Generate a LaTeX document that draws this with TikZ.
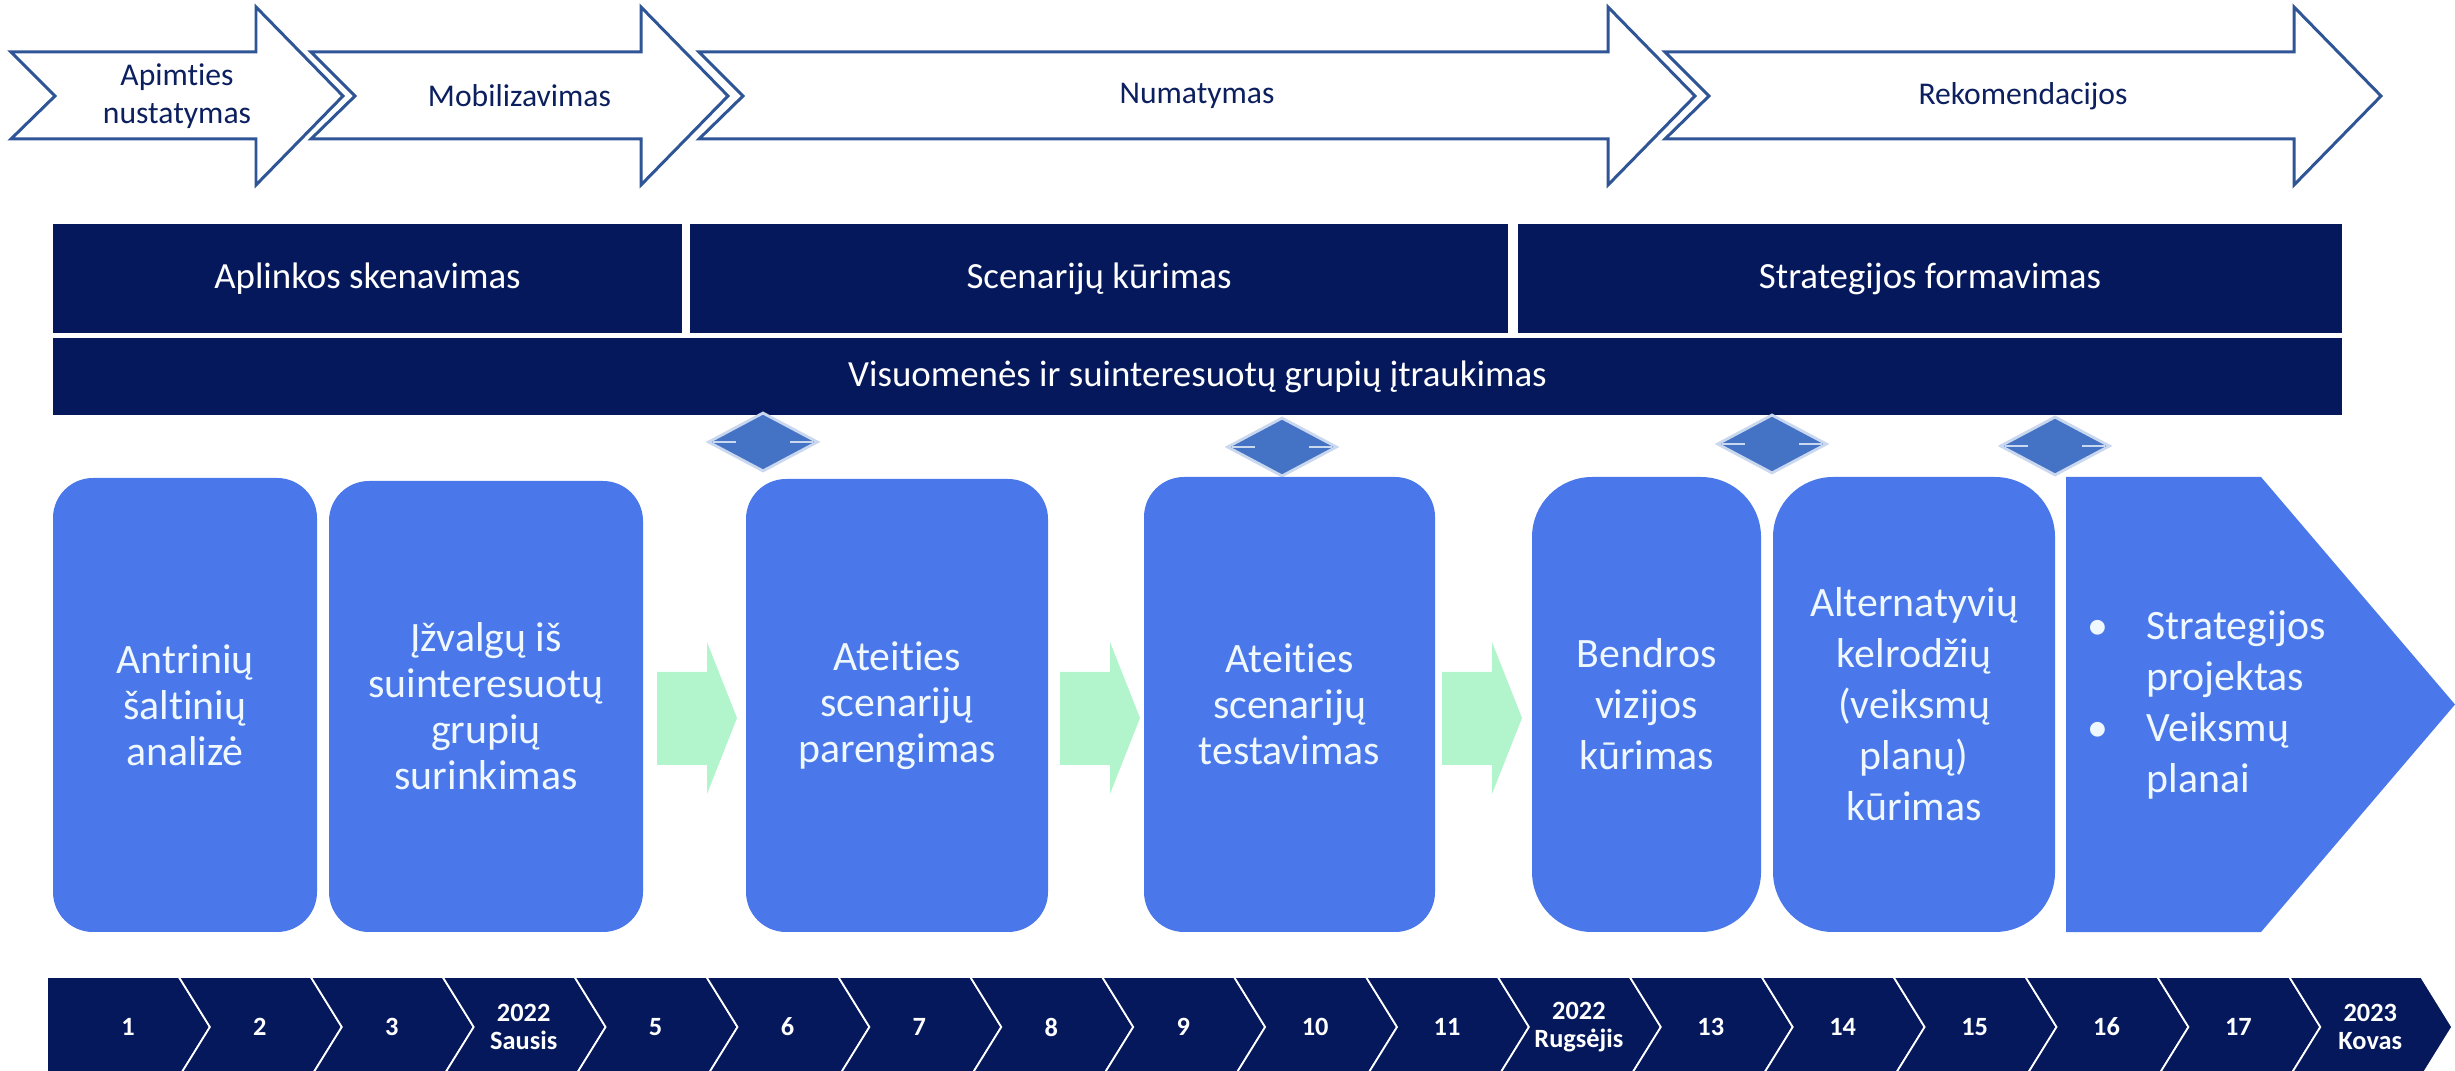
\documentclass[tikz,border=0pt]{standalone}
\usepackage{fontspec}
\setmainfont[Ligatures=NoCommon]{Carlito}
\usetikzlibrary{shapes.geometric}

\definecolor{navy}{HTML}{05185B}
\definecolor{arrowline}{HTML}{2F5597}
\definecolor{navytext}{HTML}{0C1F5E}
\definecolor{boxblue}{HTML}{4A77EA}
\definecolor{boxtext}{HTML}{F0F8FF}
\definecolor{mint}{HTML}{B2F5CC}
\definecolor{diamondfill}{HTML}{4472C4}
\definecolor{diamondedge}{HTML}{C9D7EF}

\begin{document}
\begin{tikzpicture}[x=0.1mm, y=-0.1mm,
    phasearrow/.style={draw=arrowline, line width=0.85pt, fill=white},
    phaselabel/.style={text=navytext, align=center, font=\fontsize{9}{10.8}\selectfont},
    phasebar/.style={fill=navy, text=white, inner sep=0pt, font=\fontsize{10.5}{12.6}\selectfont},
    stage/.style={fill=boxblue, rounded corners=4mm, text=boxtext, align=center, inner sep=0pt,
      font=\fontsize{11.9}{13.1}\selectfont},
    widestage/.style={stage, rounded corners=6mm, font=\fontsize{11.9}{14.5}\selectfont},
    milestone/.style={diamond, fill=diamondfill, draw=diamondedge, line width=0.8pt, inner sep=0pt,
      minimum width=11mm, minimum height=5.9mm},
    flowarrow/.style={fill=mint},
    weekbox/.style={fill=navy, draw=white, line width=0.5pt},
    weeklabel/.style={text=white, align=center, font=\bfseries\fontsize{7.5}{8}\selectfont}
  ]

    \useasboundingbox (0,0) rectangle (2455,1071);

    % phases on top
    \foreach \a/\b/\n/\t in {11/256/apimt/{Apimties\\nustatymas}, 311/641/mobil/Mobilizavimas,
                             699/1608/numat/Numatymas, 1665/2294/rekom/Rekomendacijos} {
      \draw[phasearrow] (\a,52) -- (\b,52) -- (\b,7) -- (\b+87,96) -- (\b,185) -- (\b,139)
        -- (\a,139) -- (\a+44,96) -- cycle;
      \node[phaselabel] (\n) at ({(\a+\b+87)/2},96) {\t};
    }

    % dark bars
    \node[phasebar, minimum width=62.9mm, minimum height=10.9mm] (aplink) at (367.5,278.5) {Aplinkos skenavimas};
    \node[phasebar, minimum width=81.8mm, minimum height=10.9mm] (scenar) at (1099,278.5) {Scenarijų kūrimas};
    \node[phasebar, minimum width=82.4mm, minimum height=10.9mm] (strform) at (1930,278.5) {Strategijos formavimas};
    \node[phasebar, minimum width=228.9mm, minimum height=7.7mm] (visuom) at (1197.5,376.5)
      {Visuomenės ir suinteresuotų grupių įtraukimas};

    % milestones
    \foreach \x/\y/\n in {763/442/m1, 1282/447/m2, 1772/444/m3, 2055/446/m4} {
      \node[milestone] (\n) at (\x,\y) {};
      \draw[diamondedge, line width=0.8pt] (\n.west) ++(6,0) -- ++(23,0);
      \draw[diamondedge, line width=0.8pt] (\n.east) ++(-6,0) -- ++(-23,0);
    }

    % stages
    \node[stage, minimum width=26.4mm, minimum height=45.4mm] (antrin) at (185,705) {Antrinių\\šaltinių\\analizė};
    \node[stage, minimum width=31.4mm, minimum height=45.1mm] (izvalg) at (486,706.5)
      {Įžvalgų iš\\suinteresuotų\\grupių\\surinkimas};
    \node[stage, minimum width=30.2mm, minimum height=45.3mm] (pareng) at (897,705.5) {Ateities\\scenarijų\\parengimas};
    \node[stage, minimum width=29.1mm, minimum height=45.5mm] (testav) at (1289.5,704.5) {Ateities\\scenarijų\\testavimas};
    \node[widestage, minimum width=22.9mm, minimum height=45.5mm] (vizija) at (1646.5,704.5) {Bendros\\vizijos\\kūrimas};
    \node[widestage, minimum width=28.2mm, minimum height=45.5mm] (kelrod) at (1914,704.5)
      {Alternatyvių\\kelrodžių\\(veiksmų\\planų)\\kūrimas};

    \fill[boxblue] (2066,477) -- (2261,477) -- (2455,704.5) -- (2261,932) -- (2066,932) -- cycle;
    \node[text=boxtext, anchor=west, inner sep=0pt, font=\fontsize{11.9}{14.5}\selectfont] (strat) at (2087,706)
      {\begin{tabular}{@{}p{5.9mm}@{}l@{}}
        • & Strategijos\\
          & projektas\\
        • & Veiksmų\\
          & planai
      \end{tabular}};

    % green arrows between stages
    \foreach \x in {657,1060,1442} {
      \fill[flowarrow] (\x,672) -- (\x+50,672) -- (\x+50,642) -- (\x+80,718) -- (\x+50,794)
        -- (\x+50,765) -- (\x,765) -- cycle;
    }

    % time line
    \foreach \lab [count=\i from 0] in {1,2,3,{2022\\Sausis},5,6,7,8,9,10,11,{2022\\Rugsėjis},
                                        13,14,15,16,17,{2023\\Kovas}} {
      \pgfmathsetmacro\cl{47+131.9*\i}
      \pgfmathsetmacro\nd{\i==0 ? 0 : 31}
      \draw[weekbox] (\cl,977) -- ++(131.9,0) -- ++(31,50) -- ++(-31,50) -- ++(-131.9,0)
        -- ++(\nd,-50) -- cycle;
      \node[weeklabel] (w\i) at (\cl+81,1027) {\lab};
    }

\end{tikzpicture}
\end{document}
